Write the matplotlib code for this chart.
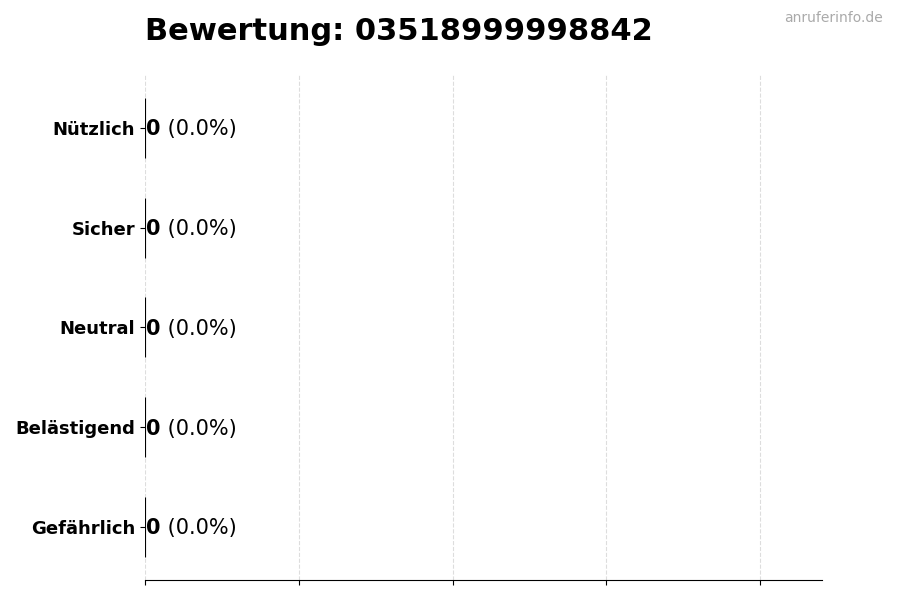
import matplotlib
matplotlib.use("Agg")
import matplotlib.pyplot as plt

# data
categories = ["Gefährlich", "Belästigend", "Neutral", "Sicher", "Nützlich"]
counts = [0, 0, 0, 0, 0]
colors = ["#d9534f", "#f0ad4e", "#999999", "#5bc0de", "#5cb85c"]
number = "03518999998842"

total = sum(counts)
pcts = [c / total * 100 if total else 0.0 for c in counts]

fig = plt.figure(figsize=(9, 6), dpi=100)
ax = fig.add_axes([0.161, 0.0333, 0.752, 0.842])

bars = ax.barh(categories, counts, height=0.6, color=colors,
               edgecolor="black", linewidth=0.8)

ax.set_xlim(0, max(1, max(counts) * 1.1) * 1.1)
ax.set_xticks([0, 0.25, 0.5, 0.75, 1.0])
ax.set_xticklabels([])
ax.grid(axis="x", linestyle="--", color="#dddddd", linewidth=0.8)
ax.set_axisbelow(True)
for s in ["top", "right", "left"]:
    ax.spines[s].set_visible(False)

for lbl in ax.get_yticklabels():
    lbl.set_fontweight("bold")
    lbl.set_fontsize(13)

for i, (c, p) in enumerate(zip(counts, pcts)):
    t = ax.annotate(str(c), xy=(c, i), xytext=(1, -1),
                    textcoords="offset points", va="center", ha="left",
                    fontsize=15, fontweight="bold")
    ax.annotate(f" ({p:.1f}%)", xy=(1, 0), xycoords=t,
                va="bottom", ha="left", fontsize=15)

fig.text(0.161, 0.947, f"Bewertung: {number}", fontsize=22,
         fontweight="bold", ha="left", va="center")
fig.text(0.981, 0.97, "anruferinfo.de", fontsize=10, color="#aaaaaa",
         ha="right", va="center")

fig.savefig("out.png", dpi=100)
